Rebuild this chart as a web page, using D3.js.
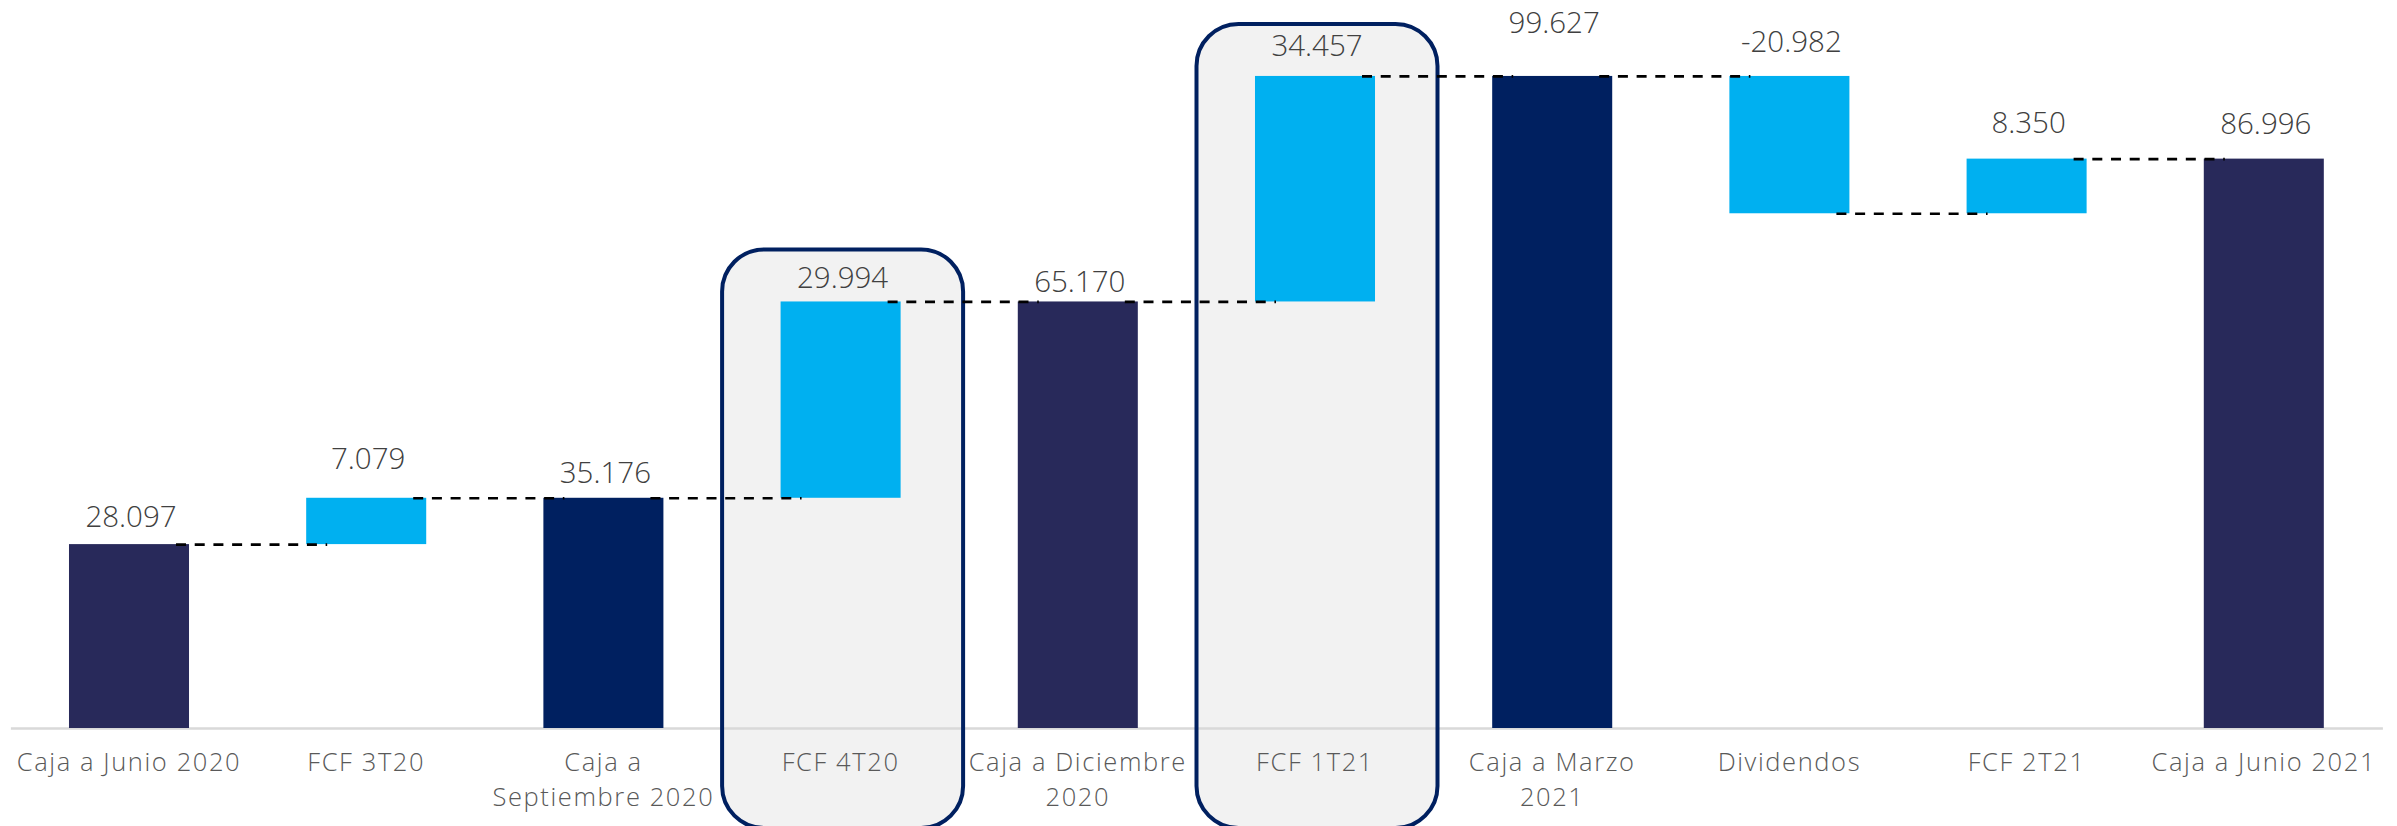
<!DOCTYPE html>
<html>
<head>
<meta charset="utf-8">
<script src="https://cdn.jsdelivr.net/npm/d3@7"></script>
<style>
  html, body { margin: 0; padding: 0; background: #fff; }
  svg { display: block; }
</style>
</head>
<body>
<svg id="chart" width="2397" height="826"></svg>
<script>
// Cash bridge, June 2020 -> June 2021 (thousands)
const categories = [
  "Caja a Junio 2020", "FCF 3T20", "Caja a\nSeptiembre 2020", "FCF 4T20",
  "Caja a Diciembre\n2020", "FCF 1T21", "Caja a Marzo\n2021", "Dividendos",
  "FCF 2T21", "Caja a Junio 2021"
];
const values = [28097, 7079, 35176, 29994, 65170, 34457, 99627, -20982, 8350, 86996];
// "semestre"/"trimestre" = cash balance at period close, "flujo" = movement
const kinds = ["semestre", "flujo", "trimestre", "flujo", "semestre", "flujo",
               "trimestre", "flujo", "flujo", "semestre"];
const highlighted = ["FCF 4T20", "FCF 1T21"];

// Layout tweaks: extra lift (px) of each value label above its bar
const labelLift = [-2, 10, -4, -6, -10, 1, 24, 5, 7, 6];

const FONT = "'Open Sans', Lato, sans-serif";
const svg = d3.select("#chart");

const fmt = d3.formatLocale({
  decimal: ",", thousands: ".", grouping: [3], currency: ["", " €"], minus: "-"
}).format(",d");

const color = d3.scaleOrdinal()
  .domain(["semestre", "trimestre", "flujo"])
  .range(["#28295a", "#002060", "#00b0f0"]);

// Running level for floating bars
let level = 0;
const bars = categories.map((c, i) => {
  const v = values[i];
  let y0, y1;
  if (kinds[i] === "flujo") { y0 = level; y1 = level + v; }
  else { y0 = 0; y1 = v; }
  level = y1;
  return { c, v, kind: kinds[i], y0, y1, i, level: y1 };
});

const x = d3.scaleBand()
  .domain(categories)
  .range([10.4, 2382.4])
  .paddingInner(0.494)
  .paddingOuter(0.247);
const bw = x.bandwidth();

const y = d3.scaleLinear().domain([0, 111230]).range([728, 0]);

// Highlight frames behind the selected movements
const frames = bars.filter(d => highlighted.includes(d.c));
const frameW = 241;
const frameAttrs = sel => sel
  .attr("x", d => x(d.c) + bw / 2 + 2 - frameW / 2)
  .attr("y", d => y(Math.max(d.y0, d.y1)) - 52)
  .attr("width", frameW)
  .attr("height", d => 828 - (y(Math.max(d.y0, d.y1)) - 52))
  .attr("rx", 42).attr("ry", 42);

svg.append("g").selectAll("rect").data(frames).join("rect")
  .call(frameAttrs)
  .attr("fill", "#f2f2f2");

// Category axis; multi-line names get one text element per line
const axis = svg.append("g")
  .attr("transform", `translate(0,${y(0)})`)
  .call(d3.axisBottom(x).tickSize(0).tickPadding(0));
axis.select(".domain").attr("stroke", "#d9d9d9").attr("stroke-width", 2.6);
axis.selectAll(".tick text").remove();
axis.selectAll(".tick").each(function (d) {
  d3.select(this).selectAll("text.line")
    .data(d.split("\n"))
    .join("text")
    .attr("class", "line")
    .attr("x", 0)
    .attr("y", (line, k) => 43 + k * 35)
    .attr("text-anchor", "middle")
    .attr("font-family", FONT)
    .attr("font-weight", 300)
    .attr("font-size", 25.5)
    .attr("letter-spacing", 1.6)
    .attr("fill", "#595959")
    .text(line => line);
});

svg.append("g").selectAll("rect").data(frames).join("rect")
  .call(frameAttrs)
  .attr("fill", "none")
  .attr("stroke", "#002060")
  .attr("stroke-width", 4);

// Bars
svg.append("g").selectAll("rect").data(bars).join("rect")
  .attr("x", d => x(d.c))
  .attr("y", d => y(Math.max(d.y0, d.y1)))
  .attr("width", bw)
  .attr("height", d => Math.abs(y(d.y0) - y(d.y1)))
  .attr("fill", d => color(d.kind));

// Dashed connectors between consecutive bars
const links = bars.slice(0, -1).map((d, i) => ({ a: d, b: bars[i + 1] }));
svg.append("g").selectAll("line").data(links).join("line")
  .attr("x1", d => x(d.a.c) + bw - 13)
  .attr("x2", d => x(d.b.c) + 21)
  .attr("y1", d => y(d.a.level) + 0.5)
  .attr("y2", d => y(d.a.level) + 0.5)
  .attr("stroke", "#000")
  .attr("stroke-width", 2.7)
  .attr("stroke-dasharray", "10,8.7");

// Value labels
svg.append("g").selectAll("text").data(bars).join("text")
  .attr("x", d => x(d.c) + bw / 2 + 2)
  .attr("y", d => y(Math.max(d.y0, d.y1)) - (30 + labelLift[d.i]) + 11)
  .attr("text-anchor", "middle")
  .attr("font-family", FONT)
  .attr("font-weight", 300)
  .attr("font-size", 29.5)
  .attr("fill", "#404040")
  .text(d => fmt(d.v));
</script>
</body>
</html>
